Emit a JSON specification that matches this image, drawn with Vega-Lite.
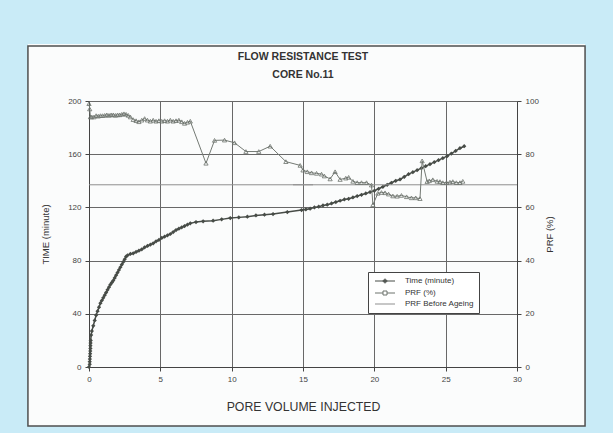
{
  "$schema": "https://vega.github.io/schema/vega-lite/v6.json",
  "width": 428,
  "height": 266,
  "autosize": {"type": "none"},
  "padding": {"left": 89, "top": 101, "right": 96, "bottom": 66},
  "background": "#fbfcfc",
  "config": {"view": {"stroke": null}, "font": "Liberation Sans"},
  "title": {
    "text": ["FLOW RESISTANCE TEST", "CORE No.11"],
    "fontSize": 10.5,
    "fontWeight": "bold",
    "font": "Liberation Sans",
    "color": "#333333",
    "lineHeight": 18,
    "offset": 0,
    "dy": 137,
    "anchor": "middle"
  },
  "datasets": {
    "time": [
      {"pv": 0, "t": 0}, {"pv": 0.05, "t": 2}, {"pv": 0.05, "t": 4}, {"pv": 0.06, "t": 6}, {"pv": 0.07, "t": 8},
      {"pv": 0.08, "t": 10}, {"pv": 0.09, "t": 12}, {"pv": 0.1, "t": 14}, {"pv": 0.1, "t": 16}, {"pv": 0.11, "t": 18},
      {"pv": 0.12, "t": 20}, {"pv": 0.15, "t": 24}, {"pv": 0.2, "t": 27}, {"pv": 0.3, "t": 31}, {"pv": 0.4, "t": 35},
      {"pv": 0.5, "t": 39}, {"pv": 0.6, "t": 42}, {"pv": 0.7, "t": 45}, {"pv": 0.8, "t": 48}, {"pv": 0.9, "t": 50},
      {"pv": 1.0, "t": 52}, {"pv": 1.1, "t": 54}, {"pv": 1.2, "t": 56}, {"pv": 1.3, "t": 58}, {"pv": 1.4, "t": 60},
      {"pv": 1.5, "t": 62}, {"pv": 1.6, "t": 63.5}, {"pv": 1.7, "t": 65}, {"pv": 1.8, "t": 67}, {"pv": 1.9, "t": 69},
      {"pv": 2.0, "t": 71}, {"pv": 2.1, "t": 73}, {"pv": 2.2, "t": 75}, {"pv": 2.3, "t": 77}, {"pv": 2.4, "t": 79},
      {"pv": 2.5, "t": 81}, {"pv": 2.6, "t": 83}, {"pv": 2.7, "t": 84}, {"pv": 2.9, "t": 85}, {"pv": 3.1, "t": 85.5},
      {"pv": 3.3, "t": 86.5}, {"pv": 3.5, "t": 87.5}, {"pv": 3.7, "t": 88.5}, {"pv": 3.9, "t": 90}, {"pv": 4.1, "t": 91},
      {"pv": 4.3, "t": 92}, {"pv": 4.5, "t": 93}, {"pv": 4.7, "t": 94.5}, {"pv": 4.9, "t": 95.5}, {"pv": 5.1, "t": 97},
      {"pv": 5.3, "t": 98}, {"pv": 5.5, "t": 99}, {"pv": 5.7, "t": 100}, {"pv": 5.9, "t": 101.5}, {"pv": 6.1, "t": 103},
      {"pv": 6.3, "t": 104}, {"pv": 6.5, "t": 105}, {"pv": 6.7, "t": 106}, {"pv": 6.9, "t": 107}, {"pv": 7.1, "t": 108},
      {"pv": 7.5, "t": 109}, {"pv": 8.0, "t": 109.5}, {"pv": 8.7, "t": 110}, {"pv": 9.3, "t": 111}, {"pv": 9.9, "t": 112},
      {"pv": 10.5, "t": 112.5}, {"pv": 11.1, "t": 113}, {"pv": 11.7, "t": 114}, {"pv": 12.3, "t": 114.5}, {"pv": 12.9, "t": 115},
      {"pv": 13.9, "t": 116.5}, {"pv": 14.9, "t": 118}, {"pv": 15.2, "t": 118.5}, {"pv": 15.5, "t": 119}, {"pv": 15.8, "t": 120},
      {"pv": 16.1, "t": 120.5}, {"pv": 16.4, "t": 121.5}, {"pv": 16.7, "t": 122}, {"pv": 17.0, "t": 123}, {"pv": 17.3, "t": 124},
      {"pv": 17.6, "t": 125}, {"pv": 17.9, "t": 126}, {"pv": 18.2, "t": 126.5}, {"pv": 18.5, "t": 127.5}, {"pv": 18.8, "t": 128.5},
      {"pv": 19.1, "t": 129.5}, {"pv": 19.4, "t": 130.5}, {"pv": 19.7, "t": 131.5}, {"pv": 20.0, "t": 132.5}, {"pv": 20.3, "t": 134},
      {"pv": 20.6, "t": 135.5}, {"pv": 20.9, "t": 137}, {"pv": 21.2, "t": 138.5}, {"pv": 21.5, "t": 140}, {"pv": 21.8, "t": 141},
      {"pv": 22.1, "t": 143}, {"pv": 22.4, "t": 145}, {"pv": 22.7, "t": 146.5}, {"pv": 23.0, "t": 148}, {"pv": 23.3, "t": 149.5},
      {"pv": 23.6, "t": 151}, {"pv": 23.9, "t": 152.5}, {"pv": 24.2, "t": 154}, {"pv": 24.5, "t": 155.5}, {"pv": 24.8, "t": 157},
      {"pv": 25.1, "t": 158.5}, {"pv": 25.4, "t": 160.5}, {"pv": 25.7, "t": 162.5}, {"pv": 26.0, "t": 164.5}, {"pv": 26.3, "t": 166}
    ],
    "prf": [
      {"pv": 0, "prf": 99}, {"pv": 0.05, "prf": 97}, {"pv": 0.1, "prf": 94}, {"pv": 0.2, "prf": 94}, {"pv": 0.35, "prf": 94},
      {"pv": 0.5, "prf": 94.5}, {"pv": 0.65, "prf": 94.3}, {"pv": 0.8, "prf": 94.5}, {"pv": 0.95, "prf": 94.5}, {"pv": 1.1, "prf": 94.6},
      {"pv": 1.25, "prf": 94.8}, {"pv": 1.4, "prf": 94.6}, {"pv": 1.55, "prf": 94.8}, {"pv": 1.7, "prf": 94.8}, {"pv": 1.85, "prf": 94.6},
      {"pv": 2.0, "prf": 94.8}, {"pv": 2.15, "prf": 94.8}, {"pv": 2.3, "prf": 95}, {"pv": 2.45, "prf": 95.2}, {"pv": 2.6, "prf": 95},
      {"pv": 2.75, "prf": 94.6}, {"pv": 2.9, "prf": 94}, {"pv": 3.1, "prf": 93}, {"pv": 3.3, "prf": 92.6}, {"pv": 3.5, "prf": 92.2},
      {"pv": 3.7, "prf": 92.8}, {"pv": 3.9, "prf": 93.4}, {"pv": 4.1, "prf": 92.8}, {"pv": 4.3, "prf": 92.4}, {"pv": 4.5, "prf": 92.8},
      {"pv": 4.7, "prf": 92.4}, {"pv": 4.9, "prf": 92.6}, {"pv": 5.1, "prf": 92.4}, {"pv": 5.3, "prf": 92.6}, {"pv": 5.5, "prf": 92.4},
      {"pv": 5.7, "prf": 92.8}, {"pv": 5.9, "prf": 92.4}, {"pv": 6.1, "prf": 92.6}, {"pv": 6.3, "prf": 92.8}, {"pv": 6.5, "prf": 92.2},
      {"pv": 6.7, "prf": 91.6}, {"pv": 6.9, "prf": 92}, {"pv": 7.1, "prf": 92.4}, {"pv": 8.2, "prf": 76.6}, {"pv": 8.8, "prf": 85.2},
      {"pv": 9.5, "prf": 85.3}, {"pv": 10.2, "prf": 84.3}, {"pv": 11.0, "prf": 81}, {"pv": 11.9, "prf": 81}, {"pv": 12.7, "prf": 83},
      {"pv": 13.8, "prf": 77.2}, {"pv": 14.8, "prf": 75.8}, {"pv": 15.0, "prf": 74}, {"pv": 15.3, "prf": 73.4}, {"pv": 15.6, "prf": 73},
      {"pv": 15.95, "prf": 72.8}, {"pv": 16.3, "prf": 72.5}, {"pv": 16.5, "prf": 71.8}, {"pv": 16.9, "prf": 70.7}, {"pv": 17.25, "prf": 73.4},
      {"pv": 17.6, "prf": 70.5}, {"pv": 18.0, "prf": 71}, {"pv": 18.2, "prf": 71.3}, {"pv": 18.5, "prf": 69.8}, {"pv": 18.8, "prf": 69.3},
      {"pv": 19.1, "prf": 69.3}, {"pv": 19.45, "prf": 69.3}, {"pv": 19.8, "prf": 68.4}, {"pv": 19.9, "prf": 61}, {"pv": 20.25, "prf": 65.3},
      {"pv": 20.5, "prf": 65.6}, {"pv": 20.75, "prf": 65.5}, {"pv": 21.0, "prf": 65}, {"pv": 21.3, "prf": 64.3}, {"pv": 21.6, "prf": 64.2},
      {"pv": 21.9, "prf": 64.5}, {"pv": 22.26, "prf": 64}, {"pv": 22.6, "prf": 63.6}, {"pv": 22.9, "prf": 63.6}, {"pv": 23.2, "prf": 63.3},
      {"pv": 23.35, "prf": 77.5}, {"pv": 23.7, "prf": 69.7}, {"pv": 23.85, "prf": 70}, {"pv": 24.1, "prf": 70.4}, {"pv": 24.4, "prf": 69.8},
      {"pv": 24.6, "prf": 69.7}, {"pv": 24.8, "prf": 69.3}, {"pv": 25.06, "prf": 69.3}, {"pv": 25.3, "prf": 69.5}, {"pv": 25.5, "prf": 69.7},
      {"pv": 25.75, "prf": 69.3}, {"pv": 26.0, "prf": 69.3}, {"pv": 26.2, "prf": 69.8}
    ],
    "base": [{"series": "PRF Before Ageing", "prf": 68.5}]
  },
  "layer": [
    {
      "layer": [
        {
          "data": {"values": [{}]},
          "mark": {"type": "rect", "fill": "transparent", "stroke": "#c9ebf7", "strokeWidth": 100},
          "encoding": {
            "x": {"datum": -7.78, "type": "quantitative", "scale": {"domain": [0, 30], "nice": false}},
            "x2": {"datum": 38.27},
            "y": {"datum": 280.5, "type": "quantitative", "scale": {"domain": [0, 200], "nice": false}},
            "y2": {"datum": -82}
          }
        },
        {
          "data": {"values": [{}]},
          "mark": {"type": "rect", "fill": "transparent", "stroke": "#4f4f4f", "strokeWidth": 1.5},
          "encoding": {
            "x": {"datum": -4.28, "type": "quantitative", "scale": {"domain": [0, 30], "nice": false}},
            "x2": {"datum": 34.77},
            "y": {"datum": 241.4, "type": "quantitative", "scale": {"domain": [0, 200], "nice": false}},
            "y2": {"datum": -44.4}
          }
        },
        {
          "data": {"name": "time"},
          "mark": {"type": "line", "color": "#474c47", "strokeWidth": 1.5},
          "encoding": {
            "x": {
              "field": "pv", "type": "quantitative", "title": "PORE VOLUME INJECTED",
              "scale": {"domain": [0, 30], "nice": false},
              "axis": {
                "values": [0, 5, 10, 15, 20, 25, 30],
                "labelOverlap": false, "labelFlush": false,
                "grid": true, "gridColor": "#686868", "gridWidth": 1,
                "tickSize": 4, "tickColor": "#444444", "domainColor": "#444444",
                "labelFontSize": 8, "labelColor": "#444444", "labelFont": "Liberation Sans", "labelPadding": 4,
                "titleFontSize": 12.3, "titleFont": "Liberation Sans", "titleFontWeight": "normal", "titleColor": "#333333", "titlePadding": 17
              }
            },
            "y": {
              "field": "t", "type": "quantitative", "title": "TIME (minute)",
              "scale": {"domain": [0, 200], "nice": false},
              "axis": {
                "orient": "left",
                "values": [0, 40, 80, 120, 160, 200],
                "labelOverlap": false, "labelFlush": false,
                "grid": true, "gridColor": "#686868", "gridWidth": 1,
                "tickSize": 4, "tickColor": "#444444", "domainColor": "#444444",
                "labelFontSize": 8, "labelColor": "#444444", "labelFont": "Liberation Sans", "labelPadding": 4,
                "titleFontSize": 9.5, "titleFont": "Liberation Sans", "titleFontWeight": "normal", "titleColor": "#333333", "titlePadding": 17
              }
            }
          }
        },
        {
          "data": {"name": "time"},
          "mark": {"type": "point", "shape": "diamond", "filled": true, "color": "#474c47", "size": 18, "opacity": 1},
          "encoding": {
            "x": {"field": "pv", "type": "quantitative", "title": "PORE VOLUME INJECTED", "scale": {"domain": [0, 30], "nice": false}},
            "y": {"field": "t", "type": "quantitative", "title": "TIME (minute)", "scale": {"domain": [0, 200], "nice": false}}
          }
        }
      ]
    },
    {
      "layer": [
        {
          "data": {"name": "base"},
          "mark": {"type": "rule", "color": "#8f8f8f", "strokeWidth": 1},
          "encoding": {
            "y": {
              "field": "prf", "type": "quantitative", "title": "PRF (%)",
              "scale": {"domain": [0, 100], "nice": false},
              "axis": {
                "orient": "right",
                "values": [0, 20, 40, 60, 80, 100],
                "labelOverlap": false, "labelFlush": false,
                "grid": false,
                "tickSize": 4, "tickColor": "#444444", "domainColor": "#444444",
                "labelFontSize": 8, "labelColor": "#444444", "labelFont": "Liberation Sans", "labelPadding": 4,
                "titleFontSize": 9.5, "titleFont": "Liberation Sans", "titleFontWeight": "normal", "titleColor": "#333333",
                "titlePadding": 16, "titleAngle": -90
              }
            }
          }
        },
        {
          "data": {"name": "prf"},
          "mark": {"type": "line", "color": "#747a74", "strokeWidth": 1},
          "encoding": {
            "x": {"field": "pv", "type": "quantitative", "title": "PORE VOLUME INJECTED", "scale": {"domain": [0, 30], "nice": false}},
            "y": {"field": "prf", "type": "quantitative", "title": "PRF (%)", "scale": {"domain": [0, 100], "nice": false}}
          }
        },
        {
          "data": {"name": "prf"},
          "mark": {"type": "point", "shape": "triangle-up", "filled": false, "color": "#6c726c", "size": 18, "strokeWidth": 0.8, "opacity": 1},
          "encoding": {
            "x": {"field": "pv", "type": "quantitative", "title": "PORE VOLUME INJECTED", "scale": {"domain": [0, 30], "nice": false}},
            "y": {"field": "prf", "type": "quantitative", "title": "PRF (%)", "scale": {"domain": [0, 100], "nice": false}}
          }
        },
        {
          "data": {"name": "base"},
          "mark": {"type": "point", "filled": false, "size": 25, "strokeWidth": 1, "opacity": 1},
          "encoding": {
            "y": {"field": "prf", "type": "quantitative", "title": "PRF (%)", "scale": {"domain": [0, 100], "nice": false}},
            "color": {
              "field": "series", "type": "nominal",
              "scale": {"domain": ["Time (minute)", "PRF (%)", "PRF Before Ageing"], "range": ["#474c47", "#6c726c", "#8f8f8f"]},
              "legend": {
                "title": null, "orient": "none", "legendX": 279, "legendY": 171,
                "fillColor": "#ffffff", "strokeColor": "#444444", "padding": 5,
                "labelFontSize": 8, "labelFont": "Liberation Sans", "labelColor": "#333333",
                "symbolSize": 25, "symbolStrokeWidth": 1, "symbolOffset": 8, "labelOffset": 16, "rowPadding": 3
              }
            },
            "shape": {
              "field": "series", "type": "nominal",
              "scale": {
                "domain": ["Time (minute)", "PRF (%)", "PRF Before Ageing"],
                "range": [
                  "M-4,0H4M0,-0.9L0.9,0L0,0.9L-0.9,0ZM0,-0.45L0.45,0L0,0.45L-0.45,0Z",
                  "M-4,0H-0.8M0.8,0H4M-0.8,-0.8H0.8V0.8H-0.8Z",
                  "M-4,0H4"
                ]
              },
              "legend": {
                "title": null, "orient": "none", "legendX": 279, "legendY": 171,
                "fillColor": "#ffffff", "strokeColor": "#444444", "padding": 5,
                "labelFontSize": 8, "labelFont": "Liberation Sans", "labelColor": "#333333",
                "symbolSize": 25, "symbolStrokeWidth": 1, "symbolOffset": 8, "labelOffset": 16, "rowPadding": 3
              }
            }
          }
        }
      ]
    }
  ],
  "resolve": {"scale": {"y": "independent"}}
}
